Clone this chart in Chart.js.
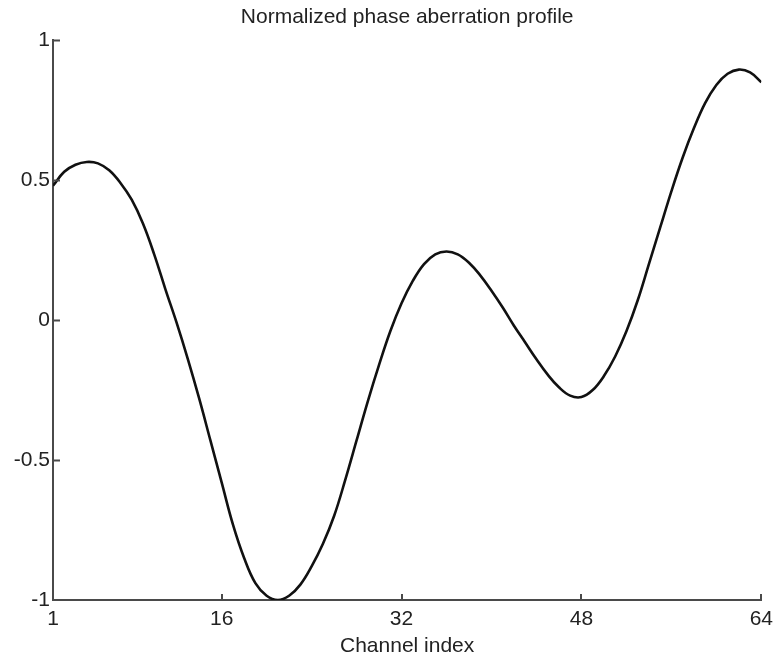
<!DOCTYPE html>
<html>
<head>
<meta charset="utf-8">
<script src="https://cdn.jsdelivr.net/npm/chart.js@4.4.1/dist/chart.umd.min.js"></script>
<style>
  html, body { margin: 0; padding: 0; background: #fff; }
  #wrap { width: 780px; height: 659px; }
</style>
</head>
<body>
<div id="wrap"><canvas id="profile-chart" width="780" height="659"></canvas></div>
<script>
const channels = [
  1, 2, 3, 4, 5, 6, 7, 8, 9, 10, 11, 12, 13, 14, 15, 16,
  17, 18, 19, 20, 21, 22, 23, 24, 25, 26, 27, 28, 29, 30, 31, 32,
  33, 34, 35, 36, 37, 38, 39, 40, 41, 42, 43, 44, 45, 46, 47, 48,
  49, 50, 51, 52, 53, 54, 55, 56, 57, 58, 59, 60, 61, 62, 63, 64
];

// phase values (normalized)
const phaseValues = [
  0.48, 0.53, 0.555, 0.565, 0.56, 0.535, 0.49, 0.43, 0.345, 0.235, 0.11, -0.01, -0.14, -0.28, -0.43, -0.58,
  -0.73, -0.85, -0.94, -0.985, -1.0, -0.985, -0.945, -0.88, -0.8, -0.7, -0.57, -0.43, -0.29, -0.16, -0.04, 0.06,
  0.14, 0.2, 0.235, 0.245, 0.235, 0.205, 0.16, 0.105, 0.045, -0.02, -0.08, -0.14, -0.195, -0.24, -0.27, -0.275,
  -0.25, -0.2, -0.13, -0.04, 0.07, 0.2, 0.33, 0.46, 0.58, 0.685, 0.775, 0.84, 0.88, 0.895, 0.885, 0.85
];

const xTickValues = [1, 16, 32, 48, 64];
const yTickValues = [-1, -0.5, 0, 0.5, 1];

const fontFamily = '"Liberation Sans", Arial, Helvetica, sans-serif';
const textColor = '#222';
const axisColor = '#4a4a4a';

// small tick marks pointing into the plot, like the original figure
const inwardTicks = {
  id: 'inwardTicks',
  afterDatasetsDraw(chart) {
    const { ctx, chartArea, scales } = chart;
    ctx.save();
    ctx.strokeStyle = axisColor;
    ctx.lineWidth = 2;
    ctx.beginPath();
    xTickValues.forEach((v) => {
      const px = Math.round(scales.x.getPixelForValue(v));
      if (v === xTickValues[0]) return;
      ctx.moveTo(px, chartArea.bottom);
      ctx.lineTo(px, chartArea.bottom - 6);
    });
    yTickValues.forEach((v) => {
      const py = Math.round(scales.y.getPixelForValue(v)) + 0.5;
      if (v === yTickValues[0]) return;
      ctx.moveTo(chartArea.left, py);
      ctx.lineTo(chartArea.left + 7, py);
    });
    ctx.stroke();
    ctx.restore();
  }
};

const ctx = document.getElementById('profile-chart').getContext('2d');
const profileChart = new Chart(ctx, {
  type: 'line',
  data: {
    datasets: [
      {
        label: 'Phase aberration',
        data: channels.map((c, i) => ({ x: c, y: phaseValues[i] })),
        borderColor: '#111',
        borderWidth: 2.6,
        pointRadius: 0,
        tension: 0.4,
        fill: false
      }
    ]
  },
  options: {
    responsive: false,
    animation: false,
    events: [],
    layout: {
      padding: { left: 0, right: 13, top: 0, bottom: 0 }
    },
    plugins: {
      legend: { display: false },
      tooltip: { enabled: false },
      title: {
        display: true,
        fullSize: false,
        text: 'Normalized phase aberration profile',
        color: textColor,
        font: { family: fontFamily, size: 21, weight: 'normal' },
        padding: { top: 5, bottom: 10 }
      }
    },
    scales: {
      x: {
        type: 'linear',
        min: 1,
        max: 64,
        afterBuildTicks: (scale) => {
          scale.ticks = xTickValues.map((v) => ({ value: v }));
        },
        afterFit: (scale) => {
          scale.height = 59;
        },
        grid: { display: false, drawTicks: false },
        border: { display: true, color: axisColor, width: 2 },
        ticks: {
          color: textColor,
          font: { family: fontFamily, size: 21 },
          padding: 7,
          maxRotation: 0,
          autoSkip: false,
          callback: (v) => String(v)
        },
        title: {
          display: true,
          text: 'Channel index',
          color: textColor,
          font: { family: fontFamily, size: 21 },
          padding: { top: 0, bottom: 0 }
        }
      },
      y: {
        min: -1,
        max: 1,
        afterBuildTicks: (scale) => {
          scale.ticks = yTickValues.map((v) => ({ value: v }));
        },
        afterFit: (scale) => {
          scale.width = 53;
        },
        grid: { display: false, drawTicks: false },
        border: { display: true, color: axisColor, width: 2 },
        ticks: {
          color: textColor,
          font: { family: fontFamily, size: 21 },
          padding: 3,
          callback: (v) => String(v)
        }
      }
    }
  },
  plugins: [inwardTicks]
});
</script>
</body>
</html>
